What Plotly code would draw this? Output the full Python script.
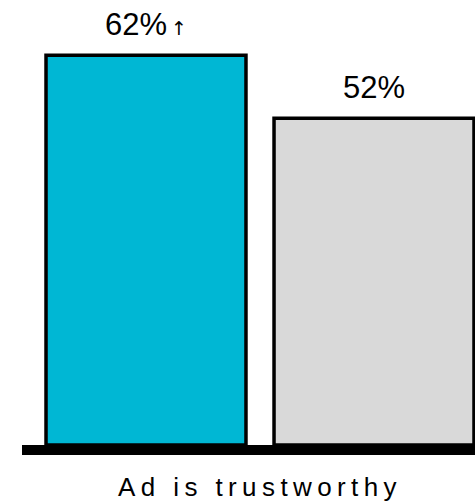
import plotly.graph_objects as go

# Survey result: share agreeing that the ad is trustworthy
category = ["Ad is trustworthy"]
series_names = ["Ad A", "Ad B"]
values = [62, 52]
value_labels = [
    "62%<span style='font-family:DejaVu Sans;font-size:19px'>\u2009\u2191</span>",
    "52%",
]
colors = ["#00B7D4", "#D9D9D9"]

fig = go.Figure()

for name, v, c, grp in zip(series_names, values, colors, ["a", "b"]):
    fig.add_trace(go.Bar(
        x=category, y=[v], name=name, offsetgroup=grp,
        marker=dict(color=c, line=dict(color="#000000", width=3.5)),
        hoverinfo="skip",
    ))

# value labels sit above each bar, aligned with the grouped bars
for v, lab, grp in zip(values, value_labels, ["a", "b"]):
    fig.add_trace(go.Scatter(
        x=category, y=[v], offsetgroup=grp, mode="markers+text",
        text=[lab], textposition="top center",
        marker=dict(size=18, opacity=0),
        textfont=dict(family="Liberation Sans, Arial, sans-serif", size=31, color="#000000"),
        hoverinfo="skip", cliponaxis=False,
    ))

fig.update_layout(
    width=475, height=504,
    margin=dict(l=22, r=0, t=0, b=59),
    paper_bgcolor="#FFFFFF", plot_bgcolor="#FFFFFF",
    barmode="group", bargap=0.1, bargroupgap=0.123,
    scattermode="group", scattergap=0.1,
    showlegend=False,
    xaxis=dict(
        range=[-0.4697, 0.4243], showgrid=False, zeroline=False,
        showline=True, linecolor="#000000", linewidth=10,
        ticks="", ticklabelstandoff=10,
        tickfont=dict(family="Liberation Sans, Arial, sans-serif", size=26, color="#000000"),
    ),
    yaxis=dict(range=[0, 70.8], visible=False, fixedrange=True),
)

post = """
document.querySelectorAll('.xtick text').forEach(function(t){ t.style.letterSpacing = '5.4px'; });
"""

fig.write_html("out.html", post_script=post)
